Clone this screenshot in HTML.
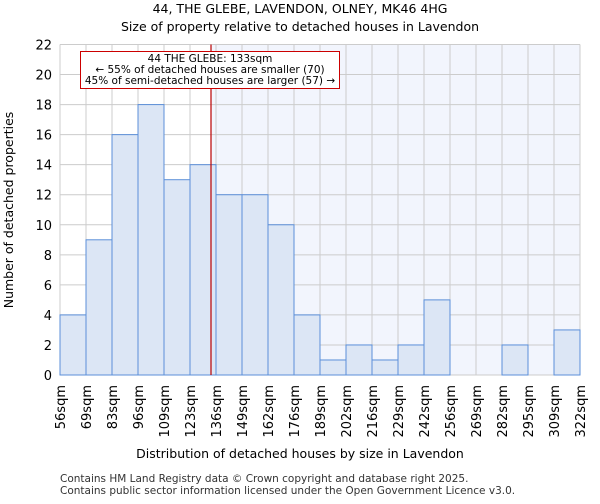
<!DOCTYPE html>
<html><head><meta charset="utf-8"><style>
body{margin:0;background:#fff;font-family:"DejaVu Sans","Liberation Sans",sans-serif}
</style></head><body>
<svg width="600" height="500" id="c" font-family="DejaVu Sans, Liberation Sans, sans-serif">
<text x="300" y="13" text-anchor="middle" font-size="12.5">44, THE GLEBE, LAVENDON, OLNEY, MK46 4HG</text>
<text x="300" y="31" text-anchor="middle" font-size="12.5">Size of property relative to detached houses in Lavendon</text>
<g id="plot"></g>
<text x="300" y="458" text-anchor="middle" font-size="12.5">Distribution of detached houses by size in Lavendon</text>
<text transform="translate(13,210) rotate(-90)" text-anchor="middle" font-size="12.5">Number of detached properties</text>
<text x="60" y="482" font-size="10.5" fill="#333">Contains HM Land Registry data © Crown copyright and database right 2025.</text>
<text x="60" y="494" font-size="10.5" fill="#333">Contains public sector information licensed under the Open Government Licence v3.0.</text>
</svg>
<script>
const binLabels=["56sqm","69sqm","83sqm","96sqm","109sqm","123sqm","136sqm","149sqm","162sqm","176sqm","189sqm","202sqm","216sqm","229sqm","242sqm","256sqm","269sqm","282sqm","295sqm","309sqm","322sqm"];
const binEdges=[56,69,83,96,109,123,136,149,162,176,189,202,216,229,242,256,269,282,295,309,322];
const counts=[4,9,16,18,13,14,12,12,10,4,1,2,1,2,5,0,0,2,0,3];
const yTicks=[0,2,4,6,8,10,12,14,16,18,20,22];
const propertySize=133;
const NS="http://www.w3.org/2000/svg";
const L=60,R=580,T=44.5,B=375,yMax=22;
const g=document.getElementById('plot');
const bw=(R-L)/counts.length;
const xi=i=>L+i*bw;
const y=v=>B-(B-T)*v/yMax;
function xv(v){for(let i=0;i<binEdges.length-1;i++){if(v>=binEdges[i]&&v<=binEdges[i+1])return xi(i+(v-binEdges[i])/(binEdges[i+1]-binEdges[i]));}return R;}
function mk(t,a,p){const e=document.createElementNS(NS,t);for(const k in a)e.setAttribute(k,a[k]);(p||g).appendChild(e);return e;}
const lx=xv(propertySize)+1;
let e=mk('rect',{x:lx,y:T,width:R-lx,height:B-T,fill:'#f2f5fd'});


yTicks.forEach(t=>{
 let l=mk('line',{x1:L,x2:R,y1:y(t),y2:y(t),stroke:'#ccc','stroke-width':1});
 
 
 let tx=mk('text',{x:L-8,y:y(t)+5,'text-anchor':'end','font-size':13});
 tx.textContent=t;
 
 
});
binLabels.forEach((s,i)=>{
 let l=mk('line',{x1:xi(i),x2:xi(i),y1:T,y2:B,stroke:'#ccc','stroke-width':1});
 
 
 let tx=mk('text',{transform:`translate(${xi(i)+5},${B+10}) rotate(-90)`,'text-anchor':'end','font-size':13});
 tx.textContent=s;
 
 
});
counts.forEach((c,i)=>{
 if(c<=0)return;
 let r=mk('rect',{x:xi(i),y:y(c),width:bw,height:B-y(c),fill:'#dce6f5',stroke:'#5b8fd9','stroke-width':1});
 
 
});
let rl=mk('line',{x1:lx,x2:lx,y1:T,y2:B,stroke:'#b00','stroke-width':1.2});


let bx=mk('rect',{x:80.5,y:51.5,width:259,height:37,fill:'#fff',stroke:'#c00','stroke-width':1});


["44 THE GLEBE: 133sqm","← 55% of detached houses are smaller (70)","45% of semi-detached houses are larger (57) →"].forEach((s,i)=>{
 let t=mk('text',{x:210,y:62+i*11,'text-anchor':'middle','font-size':10.5});
 t.textContent=s;
 
 
});
</script>
</body></html>
